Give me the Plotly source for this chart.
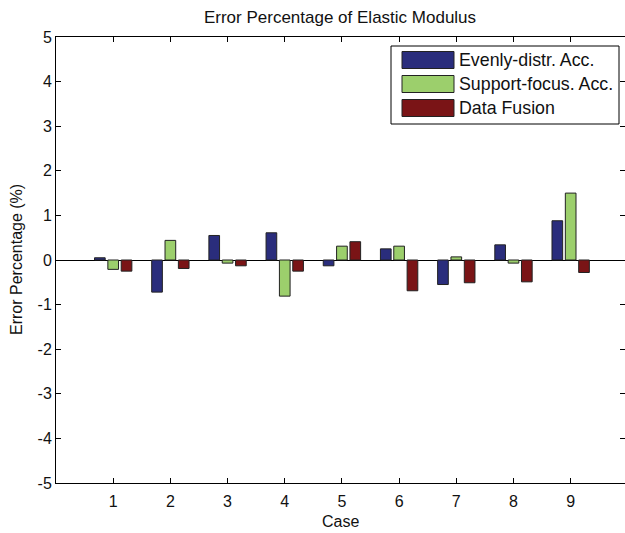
import plotly.graph_objects as go

cases = [1, 2, 3, 4, 5, 6, 7, 8, 9]
series_names = ["Evenly-distr. Acc.", "Support-focus. Acc.", "Data Fusion"]
evenly = [0.05, -0.72, 0.55, 0.61, -0.13, 0.25, -0.55, 0.34, 0.88]
support = [-0.21, 0.44, -0.07, -0.81, 0.31, 0.31, 0.07, -0.07, 1.50]
fusion = [-0.25, -0.19, -0.13, -0.25, 0.41, -0.69, -0.51, -0.49, -0.28]
y_ticks = [-5, -4, -3, -2, -1, 0, 1, 2, 3, 4, 5]
colors = ["#2a2d7c", "#9ccf6c", "#7a1416"]

W, H = 625, 533
L, R, T, B = 56, 0, 37, 50
pw, ph = W - L - R, H - T - B

def px(x):
    return (x - L) / pw

def py(y):
    return (H - B - y) / ph

FONT = "Liberation Sans, Arial, sans-serif"

fig = go.Figure()
for name, vals, c in zip(series_names, [evenly, support, fusion], colors):
    fig.add_trace(go.Bar(
        x=cases, y=vals, name=name,
        marker=dict(color=c, line=dict(color="#222222", width=1)),
        showlegend=False,
    ))

# manual MATLAB-style legend
shapes = [dict(type="rect", xref="paper", yref="paper",
               x0=px(391), x1=px(619), y0=py(124), y1=py(46),
               line=dict(color="black", width=1), fillcolor="white", layer="above")]
annotations = []
row_centers = [60, 84, 108]
for name, c, yc in zip(series_names, colors, row_centers):
    shapes.append(dict(type="rect", xref="paper", yref="paper",
                       x0=px(402), x1=px(454), y0=py(yc + 8.5), y1=py(yc - 8.5),
                       line=dict(color="#222222", width=1), fillcolor=c, layer="above"))
    annotations.append(dict(xref="paper", yref="paper", x=px(457), y=py(yc),
                            text=name, showarrow=False, xanchor="left", yanchor="middle",
                            font=dict(family=FONT, size=17.8, color="#111111")))

# axis titles as annotations for exact placement
annotations.append(dict(xref="paper", yref="paper", x=px(340), y=py(521),
                        text="Case", showarrow=False, xanchor="center", yanchor="middle",
                        font=dict(family=FONT, size=16, color="#111111")))
annotations.append(dict(xref="paper", yref="paper", x=px(16), y=py(260),
                        text="Error Percentage (%)", showarrow=False, textangle=-90,
                        xanchor="center", yanchor="middle",
                        font=dict(family=FONT, size=16, color="#111111")))

fig.update_layout(
    width=W, height=H,
    margin=dict(l=L, r=R, t=T, b=B, pad=0, autoexpand=False),
    paper_bgcolor="white", plot_bgcolor="white",
    barmode="group", bargap=0.3, bargroupgap=0.2,
    font=dict(family=FONT, size=16, color="#111111"),
    title=dict(text="Error Percentage of Elastic Modulus", x=px(340), xref="paper",
               y=1 - 17 / H, yanchor="middle", xanchor="center",
               font=dict(family=FONT, size=17, color="#111111")),
    shapes=shapes, annotations=annotations,
    showlegend=False,
)
fig.update_xaxes(
    range=[0, 9.95], tickvals=cases, ticktext=[str(c) for c in cases],
    ticks="inside", ticklen=5, tickcolor="black", automargin=False,
    showline=True, linecolor="black", linewidth=1, mirror="ticks",
    showgrid=False, zeroline=False, ticklabelstandoff=4,
    tickfont=dict(family=FONT, size=16, color="#111111"),
)
fig.update_yaxes(
    range=[-5, 5], tickvals=y_ticks, ticktext=[str(v) for v in y_ticks],
    ticks="inside", ticklen=5, tickcolor="black", automargin=False,
    showline=True, linecolor="black", linewidth=1, mirror="ticks",
    showgrid=False, zeroline=True, zerolinecolor="black", zerolinewidth=1,
    ticklabelstandoff=0,
    tickfont=dict(family=FONT, size=16, color="#111111"),
)

fig.write_html("out.html",
               config={"displayModeBar": False},
               post_script="document.body.style.margin='0';document.body.style.overflow='hidden';")
